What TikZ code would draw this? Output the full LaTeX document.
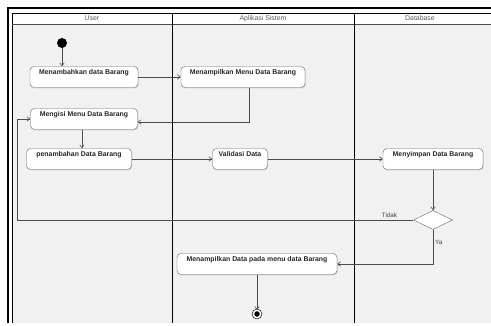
\documentclass[tikz,border=0pt]{standalone}
\usepackage{fontspec}
\setmainfont{Liberation Sans}
\usetikzlibrary{arrows.meta,positioning,shapes.geometric,shadows}
\definecolor{lanegray}{RGB}{241,241,241}
\tikzset{
  act/.style={draw=black!60, fill=white, rounded corners=4pt, align=center,
    font=\fontsize{6.9}{8}\selectfont\bfseries, text=black!85,
    minimum height=21pt, inner ysep=3pt, text height=5pt, text depth=10pt,
    drop shadow={shadow xshift=0.8pt, shadow yshift=-0.8pt, opacity=0.25}},
  decision/.style={diamond, draw=black!60, fill=white, minimum width=39pt, minimum height=19pt, inner sep=0pt},
  startstate/.style={circle, fill=black, minimum size=10pt, inner sep=0pt},
  endstate/.style={circle, draw=black, line width=0.6pt, fill=black, double=white, double distance=1.6pt, minimum size=7.5pt, inner sep=0pt},
  lanehead/.style={font=\fontsize{6.9}{8}\selectfont, text=black!65, inner sep=0pt},
  guard/.style={font=\fontsize{6.3}{7}\selectfont, text=black!75, inner sep=1pt},
  arrow/.style={-{Straight Barb[length=3pt,width=4.5pt]}, draw=black!70, line width=0.6pt}
}

\begin{document}
\begin{tikzpicture}[x=1pt, y=-1pt]
  \useasboundingbox (0,0) rectangle (491,326);
  \clip (0,0) rectangle (491,326);

  % swimlanes
  \fill[lanegray] (12,24) rectangle (500,323);
  \draw[line width=1.4pt] (8,323) |- (500,8);
  \draw[line width=0.6pt] (12,323) |- (500,13);
  \draw[black!70, line width=0.6pt] (12,24) -- (500,24);
  \draw[line width=0.9pt] (172,13) -- (172,323);
  \draw[line width=0.9pt] (354,13) -- (354,323);
  \node[lanehead] (user) at (92,18.5) {User};
  \node[lanehead] (aplikasi) at (263,18.5) {Aplikasi Sistem};
  \node[lanehead] (database) at (420,18.5) {Database};

  % activities
  \node[startstate] (start) at (62,43) {};
  \node[act, minimum width=108pt] (tambah) at (84,77) {Menambahkan data Barang};
  \node[act, minimum width=124pt] (tampilmenu) at (243,77) {Menampilkan Menu Data Barang};
  \node[act, minimum width=107pt] (isi) at (84,119) {Mengisi Menu Data Barang};
  \node[act, minimum width=105pt] (penambahan) at (79,159) {penambahan Data Barang};
  \node[act, minimum width=55pt] (validasi) at (240,159) {Validasi Data};
  \node[act, minimum width=100pt] (simpan) at (433,159) {Menyimpan Data Barang};
  \node[decision] (cek) at (433,220) {};
  \node[act, minimum width=160pt] (tampildata) at (257,264) {Menampilkan Data pada menu data Barang};
  \node[endstate] (end) at (257,314) {};

  % arrows
  \draw[arrow] (start) -- (start |- tambah.north);
  \draw[arrow] (tambah) -- (tampilmenu);
  \draw[arrow] ([xshift=6pt]tampilmenu.south) |- ([yshift=-3pt]isi.east);
  \draw[arrow] ([xshift=-2pt]isi.south) -- ([xshift=-2pt]isi.south |- penambahan.north);
  \draw[arrow] (penambahan) -- (validasi);
  \draw[arrow] (validasi) -- (simpan);
  \draw[arrow] (simpan) -- (cek);
  \draw[arrow] (cek.west) -| ([xshift=-13pt]isi.west) -- (isi.west);
  \draw[arrow] (cek.south) |- (tampildata.east);
  \draw[arrow] (tampildata) -- (end);

  \node[guard, above left=1pt and 15pt of cek.west] (tidak) {Tidak};
  \node[guard, below right=9pt and 1pt of cek.south] (ya) {Ya};
\end{tikzpicture}
\end{document}
